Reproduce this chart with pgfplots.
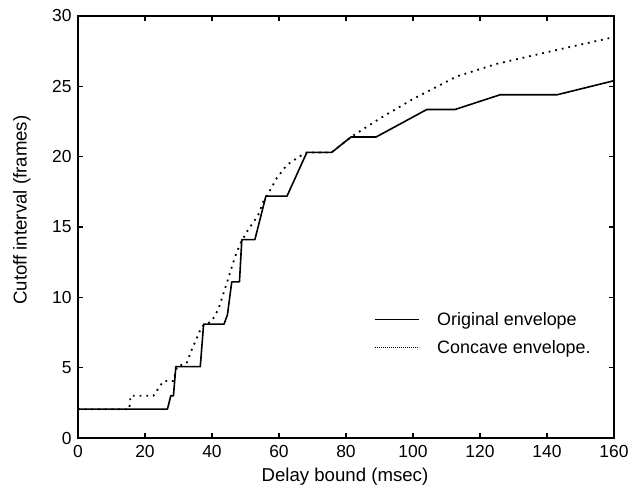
\documentclass[border=0pt]{standalone}
\usepackage{fontspec}
\setmainfont{Liberation Sans}
\usepackage{pgfplots}
\pgfplotsset{compat=1.18}
\begin{document}
\begin{tikzpicture}
\begin{axis}[
  scale only axis, width=536bp, height=422bp,
  xmin=0, xmax=160, ymin=0, ymax=30,
  xtick={0,20,...,160}, ytick={0,5,...,30},
  tick align=inside, major tick length=5bp,
  axis line style={line width=1.3bp},
  every tick/.style={line width=1.1bp, black},
  /pgf/number format/assume math mode=true,
  tick label style={font=\fontsize{17.5}{20}\selectfont},
  xticklabel style={yshift=-4bp},
  yticklabel style={xshift=-3bp},
  xlabel={Delay bound (msec)},
  ylabel={Cutoff interval (frames)},
  label style={font=\fontsize{18.7}{22}\selectfont},
  xlabel style={at={(axis description cs:0.498,-0.1036)}, anchor=base},
  ylabel style={at={(axis description cs:-0.105,0.54)}, anchor=center},
  legend cell align=left,
  legend style={draw=none, fill=none, inner xsep=0pt, inner ysep=0pt,
    font=\fontsize{18}{22}\selectfont, row sep=10bp,
    /tikz/every odd column/.append style={column sep=16bp},
    at={(axis description cs:0.5522,0.2476)}, anchor=west},
]
\addplot[black, line width=1.6bp, line join=round,
  legend image code/.code={\draw[black, line width=1bp] (0bp,0bp) -- (44bp,0bp);}]
coordinates {
(0,2.05) (26.7,2.05) (27.7,3.0) (28.5,3.0) (29.2,5.07) (36.5,5.07)
(37.5,8.1) (43.6,8.1) (44.6,8.75) (45.9,11.1) (48.2,11.1) (48.9,14.1)
(52.8,14.1) (56.1,17.2) (62.4,17.2) (68.3,20.3) (75.7,20.3) (81.5,21.4)
(89,21.4) (104.1,23.35) (112.5,23.35) (126,24.4) (143,24.4) (160,25.4)
};
\addlegendentry{Original envelope}
\addplot[black, line width=1.8bp, dash pattern=on 1.8bp off 4.9bp,
  legend image code/.code={\draw[black, line width=0.8bp, dash pattern=on 0.8bp off 1.2bp] (0bp,0bp) -- (44bp,0bp);}]
coordinates {
(0,2.05) (15.3,2.05) (15.7,3.0) (22.5,3.0) (25.5,4.05) (28.5,4.05)
(29.6,5.1) (32.4,5.3) (33.9,6.25) (36.9,7.9) (39.9,8.3) (41.9,9.15)
(44.4,11.0) (46.9,12.9) (48.4,13.8) (50.4,14.66) (53.8,15.85) (55.3,16.8)
(57.3,17.6) (59.3,18.46) (62.3,19.4) (66.3,20.04) (68.3,20.3) (75.7,20.3)
(81.5,21.4) (83.2,21.66) (90,22.7) (100,24.1) (104.1,24.6) (113,25.7)
(125,26.6) (145,27.7) (160,28.5)
};
\addlegendentry{Concave envelope.}
\end{axis}
\pgfresetboundingbox
\path[use as bounding box] ([shift={(-78bp,-51bp)}]current axis.south west) rectangle ([shift={(18bp,16bp)}]current axis.north east);
\end{tikzpicture}
\end{document}
